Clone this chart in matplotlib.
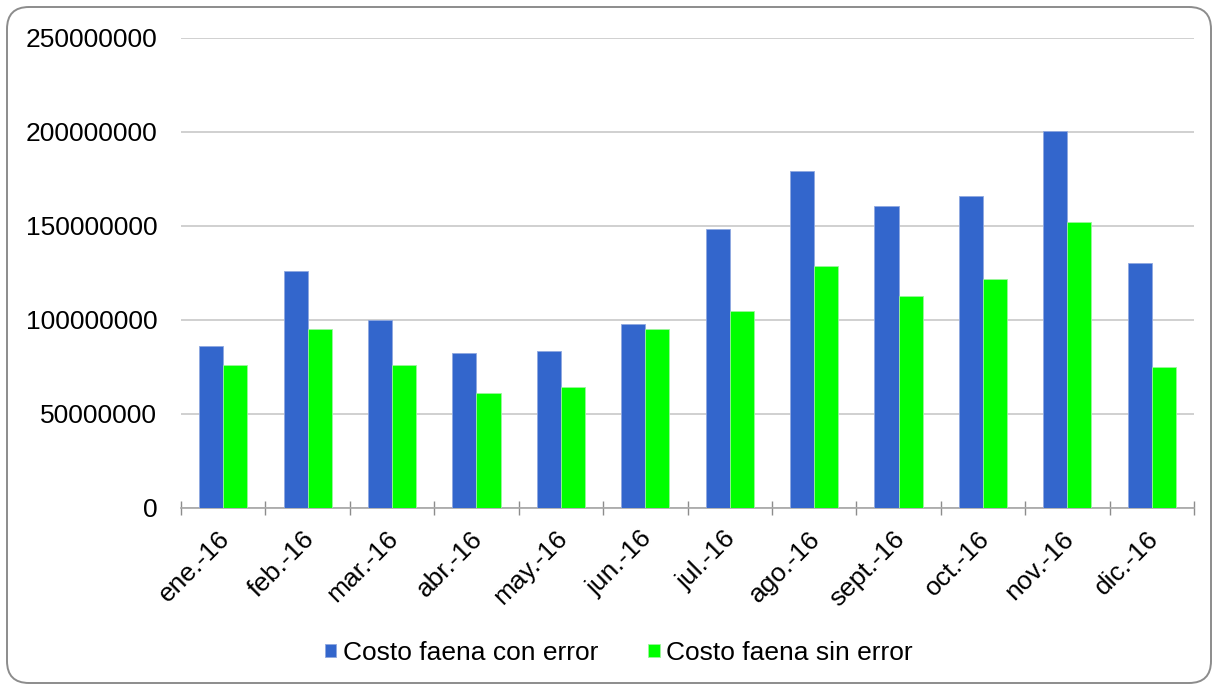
import numpy as np
import matplotlib.pyplot as plt
from matplotlib.patches import FancyBboxPatch
from matplotlib.transforms import IdentityTransform

meses = ['ene.-16', 'feb.-16', 'mar.-16', 'abr.-16', 'may.-16', 'jun.-16',
         'jul.-16', 'ago.-16', 'sept.-16', 'oct.-16', 'nov.-16', 'dic.-16']
con_error = [86.0e6, 125.7e6, 99.7e6, 82.4e6, 83.2e6, 97.6e6,
             148.1e6, 179.3e6, 160.5e6, 165.8e6, 200.5e6, 129.9e6]
sin_error = [75.7e6, 95.1e6, 76.1e6, 61.0e6, 64.2e6, 94.8e6,
             104.7e6, 128.3e6, 112.7e6, 121.9e6, 152.0e6, 74.6e6]
yticks = [0, 50000000, 100000000, 150000000, 200000000, 250000000]

plt.rcParams['font.family'] = ['Liberation Sans', 'DejaVu Sans']
fs = 19

fig = plt.figure(figsize=(12.18, 6.89), dpi=100)
ax = fig.add_axes([181 / 1218, 1 - 507.7 / 689, (1194 - 181) / 1218, 470 / 689])

x = np.arange(len(meses))
w = 0.285
ax.bar(x - w / 2, con_error, w, color='#3366CC', edgecolor='#8FA8E0', linewidth=0.6,
       label='Costo faena con error', zorder=3)
ax.bar(x + w / 2, sin_error, w, color='#00FF00', edgecolor='#9CF59C', linewidth=0.6,
       label='Costo faena sin error', zorder=3)

ax.set_xlim(-0.5, len(meses) - 0.5)
ax.set_ylim(0, 250000000)
ax.set_yticks(yticks)
ax.set_yticklabels([str(v) for v in yticks], fontsize=fs)
ax.yaxis.grid(True, color='#C4C4C4', linewidth=1.1, zorder=0)
ax.tick_params(axis='y', length=0, pad=17)

# category boundaries as ticks, rotated labels a bit left of the centres
ax.set_xticks(np.arange(len(meses) + 1) - 0.5)
ax.set_xticklabels([])
ax.set_xticks(x - 0.07, minor=True)
ax.set_xticklabels(meses, minor=True, rotation=45, ha='right',
                   rotation_mode='anchor', fontsize=fs)
ax.tick_params(axis='x', which='major', direction='inout', length=10,
               color='#8C8C8C', width=1)
ax.tick_params(axis='x', which='minor', length=0, pad=13.5)

for s in ['left', 'right', 'top']:
    ax.spines[s].set_visible(False)
ax.spines['bottom'].set_color('#A6A6A6')
ax.spines['bottom'].set_linewidth(1.2)

fig.legend(loc='center', bbox_to_anchor=(619 / 1218, 1 - 653 / 689), ncol=2,
           frameon=False, fontsize=fs, handlelength=0.42, handleheight=0.42,
           handletextpad=0.25, columnspacing=1.9)

frame = FancyBboxPatch((7, 6), 1204, 676, boxstyle='round,pad=0,rounding_size=22',
                       transform=IdentityTransform(), fill=False,
                       edgecolor='#8C8C8C', linewidth=1.4)
fig.add_artist(frame)

fig.savefig('out.png', dpi=100)
